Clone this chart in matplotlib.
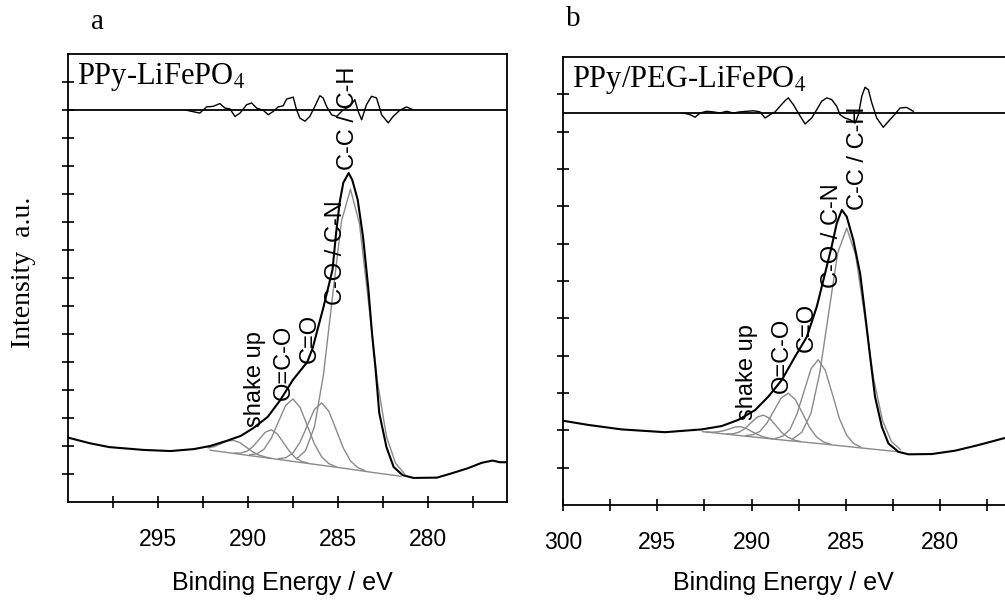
import numpy as np
import matplotlib.pyplot as plt

plt.rcParams['font.family'] = ['Liberation Sans', 'DejaVu Sans']
plt.rcParams['mathtext.fontset'] = 'stix'

SERIF = ['Liberation Serif', 'DejaVu Serif']
GREY = '#8a8a8a'
RESID_BASE = 14.0   # intensity level of the residual zero line

# ---------------- a : PPy-LiFePO4 ----------------
a_env_x = [300.0, 298.8, 297.7, 295.8, 294.3, 293.0, 292.1, 291.2, 290.4, 289.7,
           288.9, 288.2, 287.5, 286.7, 286.4, 285.8, 285.3, 285.1, 284.9, 284.7,
           284.4, 284.2, 283.9, 283.6, 283.3, 283.1, 282.9, 282.7, 282.3, 281.9,
           281.4, 280.8, 279.5, 278.8, 277.8, 277.0, 276.4, 276.0, 275.6]
a_env_y = [2.30, 2.10, 1.96, 1.86, 1.82, 1.89, 2.00, 2.18, 2.36, 2.64,
           3.04, 3.64, 4.36, 5.00, 5.50, 6.96, 8.29, 9.60, 10.70, 11.40,
           11.75, 11.50, 10.80, 9.46, 7.57, 6.00, 4.71, 3.18, 1.96, 1.25,
           0.96, 0.86, 0.87, 1.00, 1.20, 1.40, 1.48, 1.42, 1.42]

a_bg_x = [292.1, 290.5, 289.0, 287.5, 286.0, 284.5, 283.0, 281.5]
a_bg_y = [1.85, 1.71, 1.58, 1.45, 1.32, 1.19, 1.05, 0.92]

a_shake_x = [292.2, 291.85, 291.5, 291.15, 290.8, 290.45, 290.1, 289.75, 289.4, 289.05, 288.7]
a_shake_y = [1.93, 1.98, 2.08, 2.18, 2.20, 2.12, 1.96, 1.80, 1.68, 1.61, 1.56]
a_ococ_x = [290.74, 290.40, 290.06, 289.72, 289.38, 289.04, 288.70, 288.36, 288.02, 287.68, 287.34, 287.00, 286.66]
a_ococ_y = [1.75, 1.75, 1.81, 1.98, 2.23, 2.49, 2.58, 2.43, 2.11, 1.80, 1.57, 1.45, 1.39]
a_co_x = [289.9, 289.5, 289.1, 288.7, 288.3, 287.9, 287.5, 287.1, 286.7, 286.3, 285.9, 285.5, 285.1]
a_co_y = [1.69, 1.72, 1.89, 2.28, 2.87, 3.45, 3.68, 3.38, 2.73, 2.07, 1.61, 1.37, 1.26]
a_cn_x = [288.3, 287.9, 287.5, 287.1, 286.7, 286.3, 285.9, 285.5, 285.1, 284.7, 284.3, 283.9, 283.5]
a_cn_y = [1.55, 1.58, 1.75, 2.14, 2.73, 3.31, 3.54, 3.24, 2.59, 1.93, 1.47, 1.23, 1.12]
a_cc_x = [287.3, 286.8, 286.3, 285.8, 285.3, 284.8, 284.3, 283.8, 283.3, 282.8, 282.3, 281.8, 281.3]
a_cc_y = [1.54, 1.83, 2.69, 4.55, 7.33, 10.03, 11.17, 9.94, 7.15, 4.29, 2.34, 1.39, 1.01]

a_res_x = [293.41, 292.67, 292.30, 291.93, 291.56, 291.28, 291.00, 290.72, 290.44, 290.07,
           289.79, 289.52, 289.15, 288.87, 288.59, 288.32, 288.04, 287.85, 287.48, 287.30,
           287.11, 286.83, 286.56, 286.28, 286.00, 285.82, 285.63, 285.35, 285.07, 284.70,
           284.33, 284.06, 283.87, 283.68, 283.41, 283.13, 282.85, 282.57, 282.20, 281.93,
           281.56, 281.18, 280.82]
a_res_y = [-0.01, -0.11, 0.11, 0.13, 0.23, 0.07, 0.04, -0.23, -0.11, 0.19,
           0.25, 0.07, -0.01, -0.17, -0.05, 0.11, 0.15, 0.39, 0.46, 0.01,
           -0.29, -0.40, -0.23, 0.13, 0.51, 0.43, 0.13, -0.17, -0.23, 0.01,
           0.13, 0.37, -0.05, -0.35, 0.19, 0.49, 0.43, -0.17, -0.46, -0.23,
           -0.01, 0.11, 0.01]

# ---------------- b : PPy/PEG-LiFePO4 ----------------
b_env_x = [300.0, 298.66, 296.89, 294.59, 292.64, 291.58, 290.70, 289.81, 289.11, 288.40,
           287.69, 287.07, 286.54, 286.10, 285.75, 285.48, 285.21, 284.95, 284.60, 284.24,
           283.98, 283.71, 283.45, 283.09, 282.74, 282.21, 281.68, 280.44, 279.20, 277.97,
           276.64, 275.6]
b_env_y = [3.01, 2.86, 2.70, 2.60, 2.70, 2.82, 3.04, 3.39, 3.87, 4.46,
           5.30, 6.00, 7.08, 8.27, 9.23, 10.06, 10.54, 10.30, 9.46, 8.27,
           6.85, 5.30, 3.87, 2.80, 2.20, 1.90, 1.81, 1.82, 1.94, 2.14,
           2.38, 2.52]

b_bg_x = [292.6, 290.5, 288.5, 286.5, 284.5, 282.2]
b_bg_y = [2.62, 2.47, 2.33, 2.20, 2.06, 1.90]

b_shake_x = [292.4, 292.1, 291.8, 291.5, 291.2, 290.9, 290.6, 290.3, 290.0, 289.7, 289.4, 289.1, 288.8]
b_shake_y = [2.61, 2.60, 2.61, 2.65, 2.71, 2.78, 2.80, 2.74, 2.63, 2.52, 2.44, 2.39, 2.36]
b_ococ_x = [291.32, 291.00, 290.67, 290.35, 290.02, 289.70, 289.37, 289.05, 288.72, 288.40, 288.07, 287.75, 287.42]
b_ococ_y = [2.54, 2.54, 2.60, 2.73, 2.94, 3.14, 3.21, 3.10, 2.85, 2.59, 2.42, 2.32, 2.27]
b_co_x = [290.30, 289.93, 289.55, 289.18, 288.80, 288.43, 288.05, 287.68, 287.30, 286.93, 286.55, 286.18, 285.80]
b_co_y = [2.48, 2.51, 2.63, 2.93, 3.38, 3.82, 3.99, 3.77, 3.28, 2.78, 2.43, 2.25, 2.17]
b_cn_x = [288.71, 288.34, 287.96, 287.59, 287.21, 286.84, 286.46, 286.09, 285.71, 285.34, 284.96, 284.59, 284.21]
b_cn_y = [2.38, 2.46, 2.70, 3.25, 4.07, 4.87, 5.19, 4.81, 3.96, 3.09, 2.50, 2.20, 2.07]
b_cc_x = [287.80, 287.33, 286.85, 286.38, 285.90, 285.43, 284.95, 284.48, 284.00, 283.53, 283.05, 282.58, 282.10]
b_cc_y = [2.37, 2.60, 3.27, 4.72, 6.89, 9.00, 9.89, 8.94, 6.76, 4.53, 3.01, 2.27, 1.98]

b_res_x = [293.62, 293.26, 292.99, 292.73, 292.38, 292.03, 291.67, 291.32, 290.97, 290.61,
           290.26, 289.90, 289.55, 289.28, 289.02, 288.75, 288.49, 288.22, 288.05, 287.78,
           287.52, 287.16, 286.81, 286.54, 286.28, 286.01, 285.75, 285.48, 285.31, 285.04,
           284.77, 284.51, 284.33, 284.15, 283.98, 283.80, 283.62, 283.36, 283.01, 282.74,
           282.39, 282.12, 281.77, 281.42]
b_res_y = [0.00, -0.06, -0.15, 0.00, 0.06, 0.04, 0.00, 0.06, 0.00, 0.04,
           0.06, 0.08, 0.04, -0.18, -0.06, 0.04, 0.24, 0.44, 0.54, 0.30,
           0.00, -0.39, -0.18, 0.12, 0.42, 0.54, 0.48, 0.24, -0.06, -0.18,
           -0.24, -0.36, -0.06, 0.60, 0.92, 0.83, 0.36, -0.18, -0.51, -0.30,
           -0.04, 0.18, 0.20, 0.06]

peak_names = ['shake up', 'O=C-O', 'C=O', 'C-O / C-N', 'C-C / C-H']
a_label_x = [289.6, 288.0, 286.56, 285.11, 284.44]
a_label_y = [2.68, 3.64, 4.96, 7.04, 11.86]
b_label_x = [290.24, 288.38, 287.06, 285.73, 284.35]
b_label_y = [3.04, 4.00, 5.46, 7.75, 10.54]


def draw_panel(ax, env, bg, comps, res, lab_x, lab_y, name, xticks, yticks):
    for cx, cy in comps:
        ax.plot(cx, cy, color=GREY, lw=1.0)
    ax.plot(bg[0], bg[1], color=GREY, lw=1.0)
    ax.plot(env[0], env[1], color='black', lw=1.5)
    ax.plot(res[0], RESID_BASE + np.array(res[1]), color='black', lw=1.0)
    ax.axhline(RESID_BASE, color='black', lw=1.3)

    # peak assignments, written upwards above each component
    for txt, lx, ly in zip(peak_names, lab_x, lab_y):
        ax.text(lx, ly, txt, rotation=90, ha='center', va='bottom', fontsize=17)

    ax.text(0.02, 0.985, name, transform=ax.transAxes, ha='left', va='top',
            fontsize=22, family=SERIF)

    ax.set_xlim(300, 275.6)
    ax.set_ylim(0, 16)
    ax.set_xticks(xticks)
    ax.set_xticklabels([str(t) for t in xticks])
    ax.set_xticks([297.5, 292.5, 287.5, 282.5, 277.5], minor=True)
    ax.set_yticks(yticks)
    ax.tick_params(axis='both', which='both', direction='inout', length=8, width=1.2,
                   top=False, right=False, labelleft=False)
    ax.tick_params(axis='x', labelsize=16.5, pad=15)
    for s in ax.spines.values():
        s.set_linewidth(1.3)


fig = plt.figure(figsize=(10.05, 6.01), dpi=100)
ax_a = fig.add_axes([68 / 1005, 99 / 601, 439 / 1005, 448 / 601])
ax_b = fig.add_axes([563 / 1005, 96 / 601, 460 / 1005, 448 / 601])

draw_panel(ax_a, (a_env_x, a_env_y), (a_bg_x, a_bg_y),
           [(a_shake_x, a_shake_y), (a_ococ_x, a_ococ_y), (a_co_x, a_co_y),
            (a_cn_x, a_cn_y), (a_cc_x, a_cc_y)],
           (a_res_x, a_res_y), a_label_x, a_label_y, r'PPy-LiFePO$_4$',
           [295, 290, 285, 280], np.arange(1, 16))
draw_panel(ax_b, (b_env_x, b_env_y), (b_bg_x, b_bg_y),
           [(b_shake_x, b_shake_y), (b_ococ_x, b_ococ_y), (b_co_x, b_co_y),
            (b_cn_x, b_cn_y), (b_cc_x, b_cc_y)],
           (b_res_x, b_res_y), b_label_x, b_label_y, r'PPy/PEG-LiFePO$_4$',
           [300, 295, 290, 285, 280], np.linspace(0, 16, 13)[1:-1])

fig.text(282 / 1005, 1 - 583 / 601, 'Binding Energy / eV', ha='center', va='center', fontsize=18)
fig.text(783 / 1005, 1 - 583 / 601, 'Binding Energy / eV', ha='center', va='center', fontsize=18)
fig.text(24 / 1005, 1 - 272 / 601, 'Intensity  a.u.', rotation=90, ha='center', va='center',
         fontsize=20, family=SERIF)
fig.text(97 / 1005, 1 - 22 / 601, 'a', ha='center', va='center', fontsize=21, family=SERIF)
fig.text(573 / 1005, 1 - 19 / 601, 'b', ha='center', va='center', fontsize=21, family=SERIF)

fig.savefig('out.png', dpi=100)
